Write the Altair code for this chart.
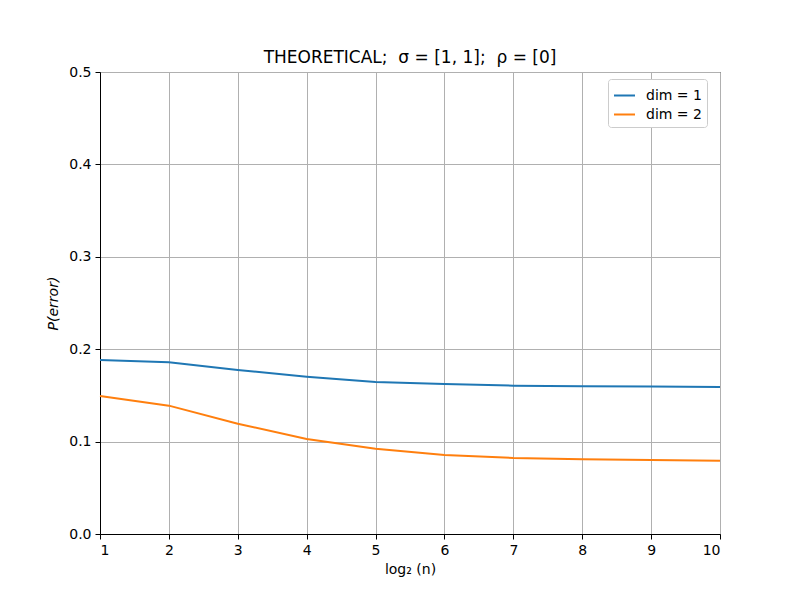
import altair as alt
import pandas as pd

# log2(n) sample sizes and theoretical error probabilities
log2_n = [1, 2, 3, 4, 5, 6, 7, 8, 9, 10]
p_err_dim1 = [0.1883, 0.1858, 0.1775, 0.1703, 0.1645, 0.1623, 0.1605, 0.1598, 0.1595, 0.1591]
p_err_dim2 = [0.1494, 0.1389, 0.1194, 0.1028, 0.0923, 0.0855, 0.0823, 0.0808, 0.0801, 0.0794]
series_names = ["dim = 1", "dim = 2"]
series_colors = ["#1f77b4", "#ff7f0e"]

df = pd.concat([
    pd.DataFrame({"log2_n": log2_n, "p": p_err_dim1, "series": series_names[0]}),
    pd.DataFrame({"log2_n": log2_n, "p": p_err_dim2, "series": series_names[1]}),
])

FONT = "DejaVu Sans"
GAP = "\u00a0\u00a0"  # keep the double spacing in the title

chart = alt.Chart(df).mark_line(strokeWidth=2).encode(
    x=alt.X(
        "log2_n:Q",
        scale=alt.Scale(domain=[1, 10], nice=False, zero=False),
        axis=alt.Axis(
            title="log\u2082\u00a0(n)",
            values=log2_n,
            format="d",
            titlePadding=5,
        ),
    ),
    y=alt.Y(
        "p:Q",
        scale=alt.Scale(domain=[0, 0.5], nice=False),
        axis=alt.Axis(
            title="P(error)",
            values=[0.0, 0.1, 0.2, 0.3, 0.4, 0.5],
            format=".1f",
            titleFontStyle="italic",
            titlePadding=8,
        ),
    ),
    color=alt.Color(
        "series:N",
        scale=alt.Scale(domain=series_names, range=series_colors),
        legend=alt.Legend(
            title=None,
            orient="none",
            legendX=508,
            legendY=7,
            symbolType="stroke",
            symbolSize=441,
            symbolStrokeWidth=2,
            labelFont=FONT,
            labelFontSize=14,
            labelColor="black",
            labelOffset=10,
            rowPadding=0,
            padding=5,
            strokeColor="#cccccc",
            fillColor="white",
            cornerRadius=3,
        ),
    ),
).properties(
    width=620,
    height=462,
    background="white",
    title=alt.Title(
        f"THEORETICAL;{GAP}σ = [1, 1];{GAP}ρ = [0]",
        font=FONT,
        fontSize=17,
        fontWeight="normal",
        color="black",
        offset=-2,
    ),
    padding={"left": 100, "top": 72, "right": 80, "bottom": 66},
    autosize=alt.AutoSizeParams(type="none"),
).configure_view(
    stroke="black",
    strokeWidth=1,
).configure_axis(
    grid=True,
    gridColor="#b0b0b0",
    gridWidth=1,
    domainColor="black",
    domainWidth=1,
    tickColor="black",
    tickSize=5,
    tickWidth=1,
    labelFont=FONT,
    labelFontSize=14,
    labelColor="black",
    labelPadding=4,
    titleFont=FONT,
    titleFontSize=14,
    titleFontWeight="normal",
    titleColor="black",
)

chart.save("out.html", embed_options={"renderer": "svg", "actions": False})
